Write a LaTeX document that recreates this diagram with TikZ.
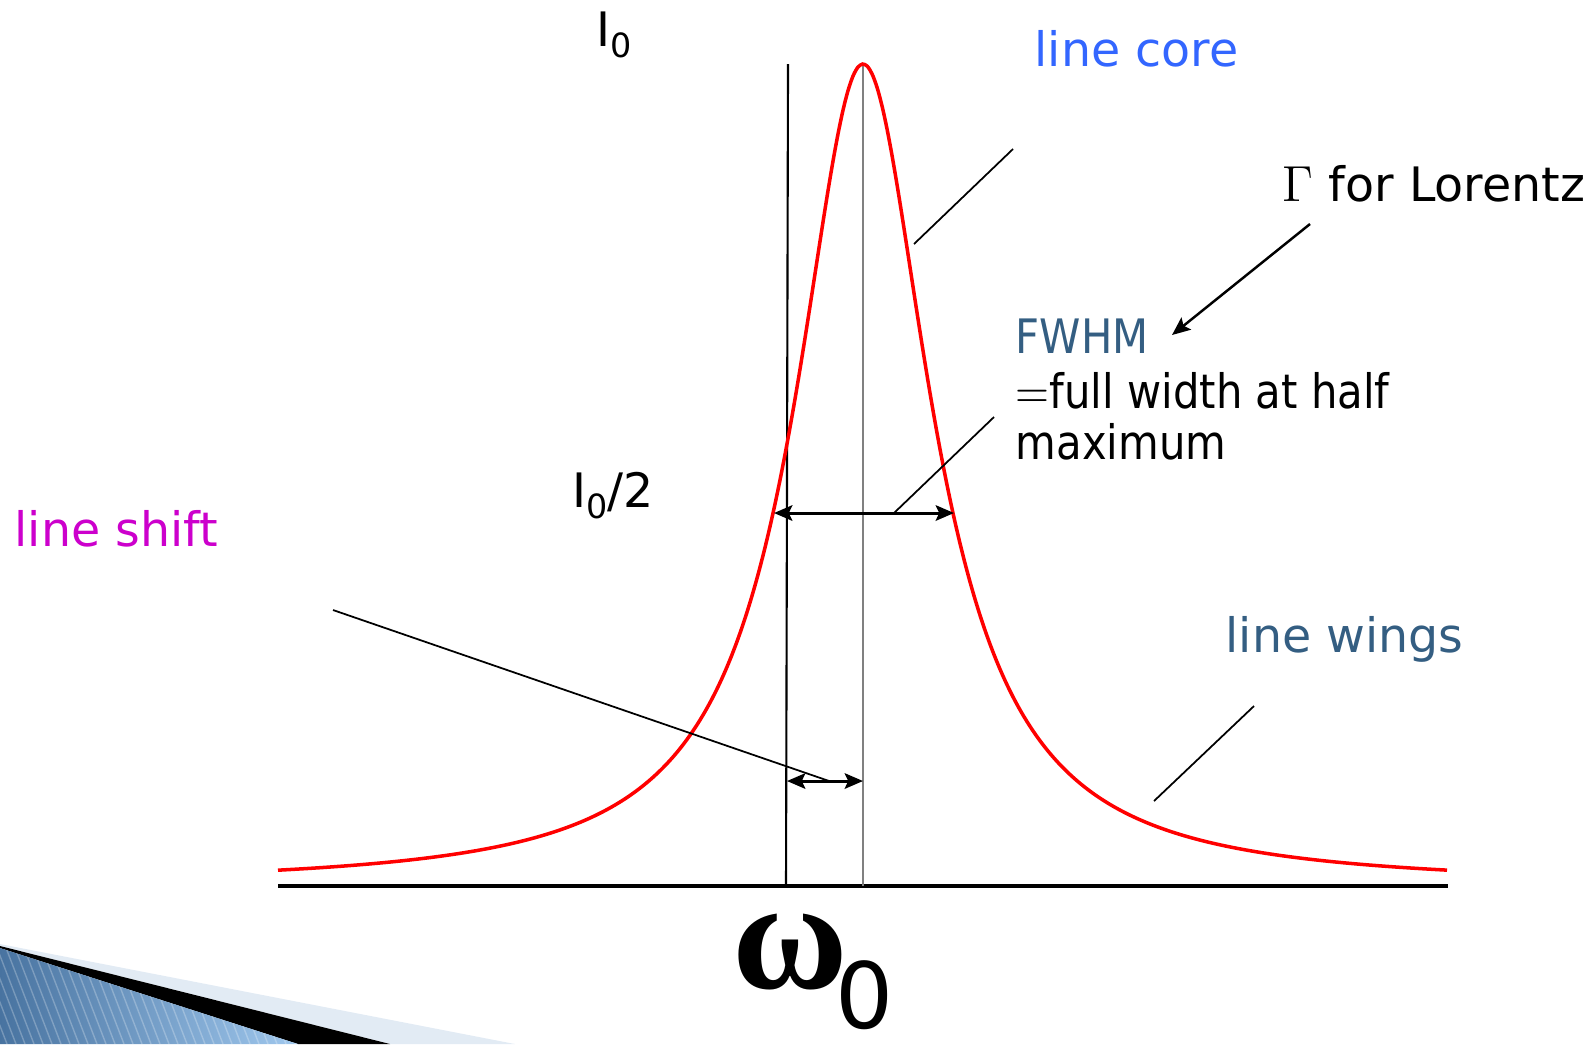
\documentclass[tikz,border=0pt]{standalone}
\usepackage{fontspec}
\setmainfont{DejaVu Sans}
\newfontfamily\greekfont{Liberation Serif}
\usepackage{amsmath}
\usetikzlibrary{arrows.meta, positioning, calc}

\definecolor{corecol}{RGB}{51,102,255}
\definecolor{wingcol}{RGB}{52,94,130}
\definecolor{shiftcol}{RGB}{204,0,204}
\definecolor{bandcol}{RGB}{226,235,244}
\newcommand{\lowsub}[1]{\raisebox{-3.4pt}{\fontsize{9.5}{10}\selectfont #1}}
\newcommand{\narrow}[1]{\scalebox{0.88}[1]{#1}}

\begin{document}
\begin{tikzpicture}[x=0.01cm,y=-0.01cm,>={Stealth[length=5.2pt,width=4.4pt,inset=1pt]},
    lbl/.style={inner sep=0pt, anchor=base west, font=\fontsize{13.5}{16}\selectfont},
    bigsym/.style={inner sep=0pt, font=\fontsize{45}{45}\greekfont\bfseries},
    bigsub/.style={inner sep=0pt, font=\fontsize{26}{26}\selectfont},
    curve/.style={draw=red, line width=1pt},
    axis/.style={draw=black, line width=1.1pt},
    pointer/.style={draw=black, line width=0.5pt},
    dbl/.style={draw=black, line width=0.85pt, <->}]
    \useasboundingbox (0,0) rectangle (1589,1044);

    % corner swoosh
    \fill[bandcol] (0,944) -- (515,1044) -- (390,1044) -- (0,946) -- cycle;
    \fill[black] (0,946) -- (390,1044) -- (298,1044) -- (0,948) -- cycle;
    \begin{scope}
      \clip (0,948) -- (298,1044) -- (0,1044) -- cycle;
      \shade[left color={rgb,255:red,72;green,115;blue,160}, right color={rgb,255:red,160;green,200;blue,238}]
        (0,940) rectangle (300,1044);
      \foreach \s in {-60,-51,...,300}
        \draw[white, opacity=0.25, line width=0.4pt] (\s,940) -- (\s+40,1044);
    \end{scope}

    % axes and profile
    \draw[axis] (278,886) -- (1448,886);
    \draw[line width=0.6pt] (788,64) -- (786,886);
    \draw[gray, line width=0.4pt] (863,64) -- (863,886);
    \draw[curve] plot[domain=-585:584, samples=241, smooth] ({863+\x},{886-822/(1+(\x/82)^2)});

    \coordinate (hl) at (774,513);
    \coordinate (hr) at (954,513);
    \draw[dbl] (hl) -- (hr);
    \coordinate (sl) at (787,781);
    \coordinate (sr) at (863,781);
    \draw[dbl] (sl) -- (sr);

    % labels
    \node[lbl] (I0) at (596,46) {I\lowsub{0}};
    \node[lbl] (Ihalf) at (572,507) {I\lowsub{0}/2};
    \node[lbl, text=corecol] (core) at (1034,66) {line core};
    \node[lbl] (gamma) at (1282,201) {$\Gamma$ for Lorentz};
    \node[lbl, text=wingcol] (fwhm) at (1015,353) {\narrow{FWHM}};
    \node[lbl] (full) at (1015,408) {\narrow{$=$full width at half}};
    \node[lbl] (maxi) at (1015,459) {\narrow{maximum}};
    \node[lbl, text=shiftcol] (shift) at (14,546) {line shift};
    \node[lbl, text=wingcol] (wings) at (1225,652) {line wings};
    \node[bigsym] (om) at (790,952) {ω};
    \node[bigsub] (omsub) at (865,995) {0};

    % pointers
    \coordinate (corefrom) at (1013,149);
    \coordinate (coreto) at (914,244);
    \draw[pointer] (corefrom) -- (coreto);
    \coordinate (gfrom) at (1310,224);
    \coordinate (gto) at (1172,335);
    \draw[pointer, ->, line width=0.7pt] (gfrom) -- (gto);
    \coordinate (ffrom) at (994,417);
    \coordinate (fto) at (894,513);
    \draw[pointer] (ffrom) -- (fto);
    \coordinate (sfrom) at (333,610);
    \coordinate (sto) at (832,782);
    \draw[pointer] (sfrom) -- (sto);
    \coordinate (wfrom) at (1254,706);
    \coordinate (wto) at (1154,801);
    \draw[pointer] (wfrom) -- (wto);
\end{tikzpicture}
\end{document}
